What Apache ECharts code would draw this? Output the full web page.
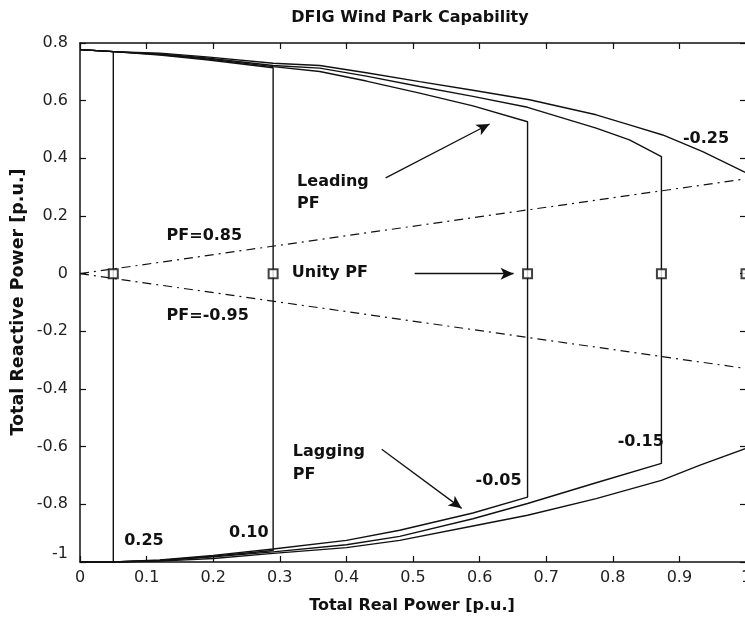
<!DOCTYPE html>
<html><head><meta charset="utf-8">
<script src="https://cdn.jsdelivr.net/npm/echarts@6/dist/echarts.min.js"></script>
<style>html,body{margin:0;padding:0;background:#fff}#c{width:745px;height:618px}</style>
</head><body><div id="c"></div>
<script>
// ---- data ----
const slipLabels = ['0.25', '0.10', '-0.05', '-0.15', '-0.25'];
const pMax = [0.05, 0.29, 0.672, 0.873, 1.0];

const upper025 = [[0,0.777],[0.05,0.770]];
const lower025 = [[0.05,-1.0],[0,-1.0]];

const upper010 = [[0,0.777],[0.05,0.770],[0.12,0.758],[0.19,0.742],[0.29,0.714]];
const lower010 = [[0.29,-0.96],[0.2,-0.98],[0.12,-0.995],[0.05,-1.0],[0,-1.0]];

const upperM005 = [[0,0.777],[0.05,0.770],[0.12,0.760],[0.19,0.745],[0.29,0.718],[0.36,0.701],[0.43,0.668],[0.51,0.626],[0.59,0.582],[0.672,0.527]];
const lowerM005 = [[0.672,-0.775],[0.59,-0.83],[0.48,-0.89],[0.4,-0.925],[0.29,-0.955],[0.2,-0.977],[0.12,-0.993],[0.05,-1.0],[0,-1.0]];

const upperM015 = [[0,0.777],[0.05,0.770],[0.12,0.762],[0.19,0.748],[0.29,0.722],[0.36,0.713],[0.43,0.685],[0.51,0.649],[0.59,0.615],[0.672,0.577],[0.775,0.505],[0.825,0.464],[0.873,0.406]];
const lowerM015 = [[0.873,-0.658],[0.775,-0.725],[0.672,-0.797],[0.59,-0.85],[0.48,-0.911],[0.4,-0.94],[0.29,-0.965],[0.2,-0.982],[0.12,-0.995],[0.05,-1.0],[0,-1.0]];

const upperM025 = [[0,0.777],[0.05,0.770],[0.12,0.765],[0.19,0.752],[0.29,0.730],[0.36,0.722],[0.43,0.697],[0.51,0.666],[0.59,0.636],[0.675,0.603],[0.775,0.551],[0.825,0.516],[0.875,0.481],[0.935,0.423],[1.0,0.35]];
const lowerM025 = [[1.0,-0.606],[0.93,-0.665],[0.873,-0.717],[0.775,-0.78],[0.672,-0.838],[0.59,-0.875],[0.48,-0.925],[0.4,-0.95],[0.29,-0.97],[0.2,-0.988],[0.12,-0.997],[0.05,-1.0],[0,-1.0]];

const pfLeading = [[0,0],[1.0,0.329]];
const pfLagging = [[0,0],[1.0,-0.329]];
const unityQ = [0, 0, 0, 0, 0];

// annotation anchors (data coordinates)
const notes = [
  {text:'Leading', at:[0.326,0.32], align:'left'},
  {text:'PF', at:[0.326,0.243], align:'left'},
  {text:'Unity PF', at:[0.318,0.003], align:'left'},
  {text:'PF=0.85', at:[0.130,0.13], align:'left'},
  {text:'PF=-0.95', at:[0.130,-0.147], align:'left'},
  {text:'Lagging', at:[0.3195,-0.619], align:'left'},
  {text:'PF', at:[0.3195,-0.696], align:'left'},
  {text:slipLabels[4], at:[0.94,0.467], align:'center'},
  {text:slipLabels[3], at:[0.842,-0.585], align:'center'},
  {text:slipLabels[2], at:[0.6285,-0.72], align:'center'},
  {text:slipLabels[1], at:[0.2535,-0.90], align:'center'},
  {text:slipLabels[0], at:[0.096,-0.925], align:'center'}
];
const arrows = [
  [[0.459,0.332],[0.615,0.519]],
  [[0.5025,0],[0.651,0]],
  [[0.453,-0.609],[0.573,-0.814]]
];

const chart = echarts.init(document.getElementById('c'), null, {renderer:'canvas'});
const FONT = '"DejaVu Sans", "Liberation Sans", Arial, sans-serif';
const ink = '#111';

const curves = [
  upper025.concat(lower025),
  upper010.concat(lower010),
  upperM005.concat(lowerM005),
  upperM015.concat(lowerM015),
  upperM025.concat(lowerM025)
];

const axisCommon = {
  type:'value', axisLine:{show:true, onZero:false, lineStyle:{color:ink, width:1.5}},
  axisTick:{show:true, inside:true, length:6, lineStyle:{color:ink, width:1.2}},
  splitLine:{show:false}
};

const series = [];
curves.forEach((d,i)=>{
  series.push({type:'line', name:'s'+slipLabels[i], data:d, showSymbol:false, symbol:'none', silent:true,
    lineStyle:{color:ink, width:1.4}, z:3});
});
[pfLeading, pfLagging].forEach(d=>{
  series.push({type:'line', data:d, showSymbol:false, symbol:'none', silent:true,
    lineStyle:{color:ink, width:1.2, type:[9,5,2,5]}, z:2});
});
series.push({type:'scatter', data:pMax.map((p,i)=>[p,unityQ[i]]), symbol:'rect', symbolSize:9, silent:true,
  itemStyle:{color:'#fff', borderColor:ink, borderWidth:2}, z:5});
series.push({type:'line', data:[], silent:true,
  markLine:{silent:true, symbol:['none','arrow'], symbolSize:[9,13], label:{show:false},
    lineStyle:{color:ink, width:1.3, type:'solid'}, emphasis:{disabled:true},
    data: arrows.map(a=>[{coord:a[0]},{coord:a[1]}])}});

chart.setOption({
  animation:false,
  backgroundColor:'#fff',
  grid:{left:80, top:43, width:666, height:519, containLabel:false, outerBoundsMode:'none'},
  xAxis:[
    Object.assign({}, axisCommon, {position:'bottom', min:0, max:1, interval:0.1,
      axisLabel:{color:'#222', fontFamily:FONT, fontSize:16, margin:8}}),
    Object.assign({}, axisCommon, {position:'top', min:0, max:1, interval:0.1, axisLabel:{show:false}})
  ],
  yAxis:[
    Object.assign({}, axisCommon, {position:'left', min:-1, max:0.8, interval:0.2,
      axisLabel:{color:'#222', fontFamily:FONT, fontSize:16, margin:12, verticalAlignMinLabel:'bottom'}}),
    Object.assign({}, axisCommon, {position:'right', min:-1, max:0.8, interval:0.2, axisLabel:{show:false}})
  ],
  series: series
});

const g = [];
g.push({type:'text', x:410, y:18, style:{text:'DFIG Wind Park Capability', fill:ink,
  font:'bold 16px '+FONT, textAlign:'center', textVerticalAlign:'middle'}});
g.push({type:'text', x:412, y:606, style:{text:'Total Real Power [p.u.]', fill:ink,
  font:'bold 16px '+FONT, textAlign:'center', textVerticalAlign:'middle'}});
g.push({type:'text', x:18, y:302, rotation:Math.PI/2, style:{text:'Total Reactive Power [p.u.]', fill:ink,
  font:'bold 17.5px '+FONT, textAlign:'center', textVerticalAlign:'middle'}});
notes.forEach(n=>{
  const p = chart.convertToPixel({gridIndex:0}, n.at);
  g.push({type:'text', x:p[0], y:p[1], z:10, style:{text:n.text, fill:ink, font:'bold 16px '+FONT,
    textAlign:n.align, textVerticalAlign:'middle'}});
});
chart.setOption({graphic:g});
</script></body></html>
